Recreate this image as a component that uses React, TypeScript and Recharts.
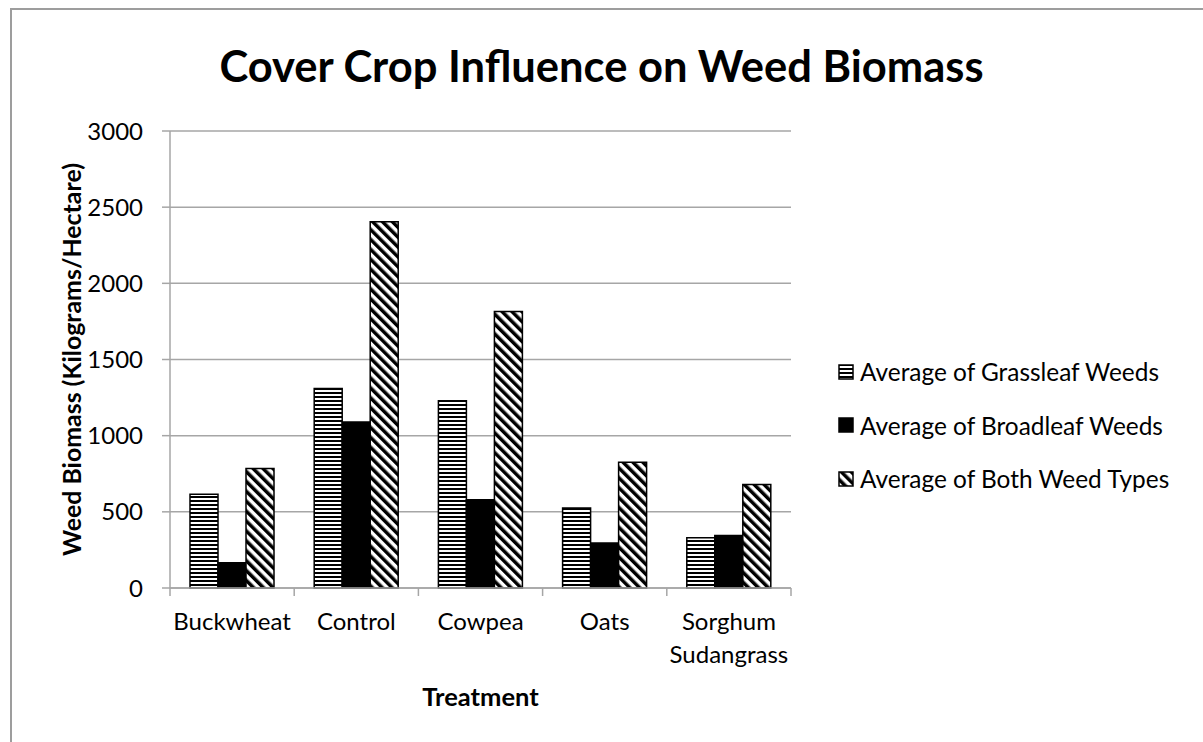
import { Bar, BarChart, CartesianGrid, Legend, XAxis, YAxis } from "recharts";

const treatments = ["Buckwheat", "Control", "Cowpea", "Oats", "Sorghum Sudangrass"];
const grassleaf = [615, 1310, 1230, 525, 330];
const broadleaf = [165, 1090, 580, 295, 345];
const bothTypes = [785, 2405, 1815, 825, 680];
const yTicks = [0, 500, 1000, 1500, 2000, 2500, 3000];

const seriesNames = [
  "Average of Grassleaf Weeds",
  "Average of Broadleaf Weeds",
  "Average of Both Weed Types",
];

const FONT = "Lato, 'Liberation Sans', sans-serif";
const AXIS_GRAY = "#a6a6a6";

const rows = treatments.map((name, i) => ({
  name,
  grass: grassleaf[i],
  broad: broadleaf[i],
  both: bothTypes[i],
}));

// Excel-style fills: wide horizontal stripes, solid black, wide downward diagonal
function Patterns({ prefix }: { prefix: string }) {
  return (
    <defs>
      <pattern id={`${prefix}-horiz`} patternUnits="userSpaceOnUse" width={8} height={4}>
        <rect width={8} height={4} fill="#fff" />
        <rect width={8} height={2} fill="#000" />
      </pattern>
      <pattern
        id={`${prefix}-diag`}
        patternUnits="userSpaceOnUse"
        width={7}
        height={7}
        patternTransform="rotate(-45)"
      >
        <rect width={7} height={7} fill="#fff" />
        <rect width={3.5} height={7} fill="#000" />
      </pattern>
    </defs>
  );
}

function wrapLabel(label: string): string[] {
  if (label.length <= 12) return [label];
  return label.split(" ");
}

// category label plus Excel-style tick marks on the band edges
function CategoryTick(props: any) {
  const { x, y, payload, index, visibleTicksCount } = props;
  const lines = wrapLabel(String(payload.value));
  const half = Number(payload.offset) || 0;
  const isLast = index === (visibleTicksCount ?? treatments.length) - 1;
  return (
    <g>
      {half > 0 && (
        <line x1={x - half} x2={x - half} y1={y} y2={y + 8} stroke={AXIS_GRAY} strokeWidth={1.5} />
      )}
      {half > 0 && isLast && (
        <line x1={x + half} x2={x + half} y1={y} y2={y + 8} stroke={AXIS_GRAY} strokeWidth={1.5} />
      )}
      <text x={x} y={y} textAnchor="middle" fill="#000" fontSize={24} fontFamily={FONT}>
        {lines.map((line, i) => (
          <tspan key={line} x={x} dy={i === 0 ? 42 : 33}>
            {line}
          </tspan>
        ))}
      </text>
    </g>
  );
}

function LegendBox() {
  const fills = ["url(#lg-horiz)", "#000", "url(#lg-diag)"];
  return (
    <div style={{ fontFamily: FONT, fontSize: 24.4, color: "#000" }}>
      {seriesNames.map((name, i) => (
        <div key={name} style={{ display: "flex", alignItems: "center", height: 53.5 }}>
          <svg width={16} height={16} style={{ marginRight: 6 }}>
            {i === 0 && <Patterns prefix="lg" />}
            <rect x={1} y={1} width={14} height={14} fill={fills[i]} stroke="#000" strokeWidth={1.5} />
          </svg>
          <span style={{ whiteSpace: "nowrap" }}>{name}</span>
        </div>
      ))}
    </div>
  );
}

export default function App() {
  return (
    <div style={{ position: "absolute", left: 0, top: 0, width: 1203, height: 742, background: "#fff" }}>
      <div
        style={{
          position: "absolute",
          left: 10,
          top: 8,
          width: 1250,
          height: 800,
          borderTop: "2px solid #9d9d9d",
          borderLeft: "2px solid #9d9d9d",
        }}
      />
      <div
        style={{
          position: "absolute",
          left: 0,
          top: 41,
          width: 1203,
          textAlign: "center",
          fontFamily: FONT,
          fontWeight: 700,
          fontSize: 43.5,
          color: "#000",
          lineHeight: "48px",
        }}
      >
        Cover Crop Influence on Weed Biomass
      </div>
      <div style={{ position: "absolute", left: 0, top: 0 }}>
        <BarChart
          width={1203}
          height={742}
          data={rows}
          margin={{ top: 131, right: 412, bottom: 36, left: 0 }}
          barCategoryGap={20}
          barGap={0}
        >
          <Patterns prefix="bar" />
          <CartesianGrid vertical={false} stroke={AXIS_GRAY} strokeWidth={1.5} />
          <XAxis
            dataKey="name"
            height={118}
            interval={0}
            tickSize={0}
            tickMargin={0}
            tickLine={false}
            axisLine={{ stroke: AXIS_GRAY, strokeWidth: 1.5 }}
            tick={<CategoryTick />}
            label={{
              value: "Treatment",
              position: "insideBottom",
              offset: 0,
              style: { fontFamily: FONT, fontWeight: 700, fontSize: 25.5, fill: "#000" },
            }}
          />
          <YAxis
            width={170}
            domain={[0, 3000]}
            ticks={yTicks}
            tickSize={8}
            tickMargin={19}
            axisLine={{ stroke: AXIS_GRAY, strokeWidth: 1.5 }}
            tickLine={{ stroke: AXIS_GRAY, strokeWidth: 1.5 }}
            tick={{ fill: "#000", fontSize: 24, fontFamily: FONT }}
            label={{
              value: "Weed Biomass (Kilograms/Hectare)",
              angle: -90,
              position: "insideLeft",
              offset: 72,
              style: { textAnchor: "middle", fontFamily: FONT, fontWeight: 700, fontSize: 24.9, fill: "#000" },
            }}
          />
          <Legend
            layout="vertical"
            align="center"
            verticalAlign="middle"
            wrapperStyle={{ left: 838, top: 345, width: 360, height: 170 }}
            content={() => <LegendBox />}
          />
          <Bar dataKey="grass" name={seriesNames[0]} fill="url(#bar-horiz)" stroke="#000" strokeWidth={1.5} isAnimationActive={false} />
          <Bar dataKey="broad" name={seriesNames[1]} fill="#000" stroke="#000" strokeWidth={1.5} isAnimationActive={false} />
          <Bar dataKey="both" name={seriesNames[2]} fill="url(#bar-diag)" stroke="#000" strokeWidth={1.5} isAnimationActive={false} />
        </BarChart>
      </div>
    </div>
  );
}
